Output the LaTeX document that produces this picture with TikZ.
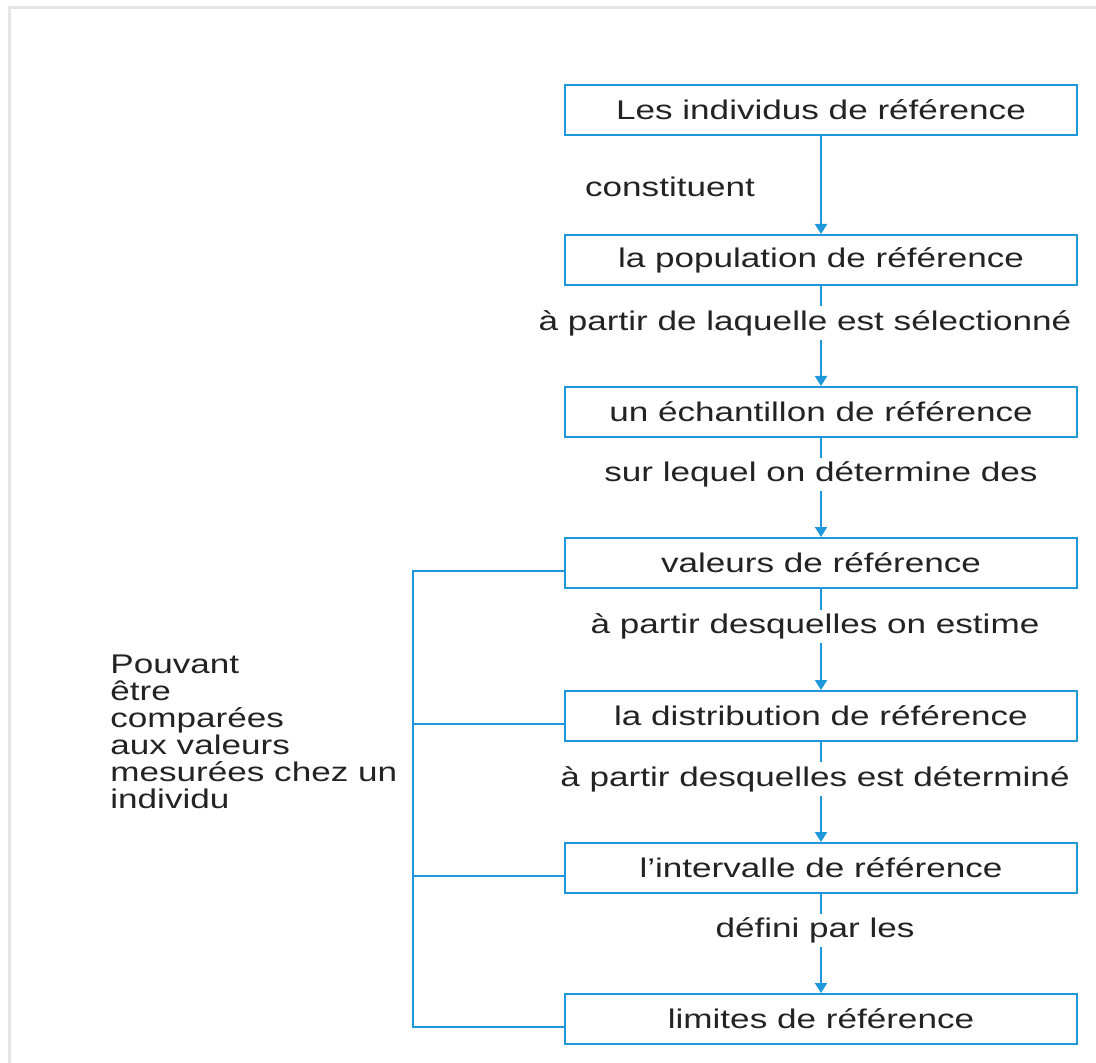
\documentclass[tikz,border=0pt]{standalone}
\usepackage{fontspec}
\setmainfont{Liberation Sans}[FakeStretch=1.3]
\usepackage{tikz}
\usetikzlibrary{arrows.meta}
\definecolor{refblue}{RGB}{30,152,218}
\definecolor{txt}{RGB}{35,35,35}

\begin{document}
\begin{tikzpicture}[x=0.5pt,y=-0.5pt,
  every node/.style={font=\fontsize{13.5}{13.5}\selectfont, text=txt},
  refbox/.style={draw=refblue, line width=1pt, minimum width=256pt,
    minimum height=25pt, inner sep=0pt},
  flow/.style={draw=refblue, line width=1pt, -{Triangle[width=6pt,length=5pt]}},
  link/.style={draw=refblue, line width=1pt},
  lbl/.style={fill=white, inner sep=2pt, pos=0.37}]
\useasboundingbox (0,0) rectangle (1096,1063);
% page edge
\draw[gray!20, line width=1.5pt] (9,1063) -- (9,8) -- (1096,8);

% chain of boxes
\node[refbox] (ind) at (821,110) {Les individus de référence};
\node[refbox] (pop) at (821,260) {la population de référence};
\node[refbox] (ech) at (821,412) {un échantillon de référence};
\node[refbox] (val) at (821,563) {valeurs de référence};
\node[refbox] (dis) at (821,716) {la distribution de référence};
\node[refbox] (int) at (821,868) {l'intervalle de référence};
\node[refbox] (lim) at (821,1019) {limites de référence};

\draw[flow] (ind) -- (pop);
\node (cst) at (670,187) {constituent};
\draw[flow] (pop) -- node[lbl, xshift=-8pt] {à partir de laquelle est sélectionné} (ech);
\draw[flow] (ech) -- node[lbl] {sur lequel on détermine des} (val);
\draw[flow] (val) -- node[lbl, xshift=-3pt] {à partir desquelles on estime} (dis);
\draw[flow] (dis) -- node[lbl, xshift=-3pt] {à partir desquelles est déterminé} (int);
\draw[flow] (int) -- node[lbl, xshift=-3pt] {défini par les} (lim);

% bracket on the left
\node[align=left, anchor=north west, inner sep=0pt] (cmp) at (110,655)
  {Pouvant\\être\\comparées\\aux valeurs\\mesurées chez un\\individu};
\coordinate (sp) at (413,0);
\foreach \b in {val,dis,int,lim}
  \coordinate (\b l) at ([yshift=-4pt]\b.west);
\draw[link] (vall) -- (vall -| sp) -- (liml -| sp) -- (liml);
\draw[link] (disl) -- (disl -| sp);
\draw[link] (intl) -- (intl -| sp);
\end{tikzpicture}
\end{document}
